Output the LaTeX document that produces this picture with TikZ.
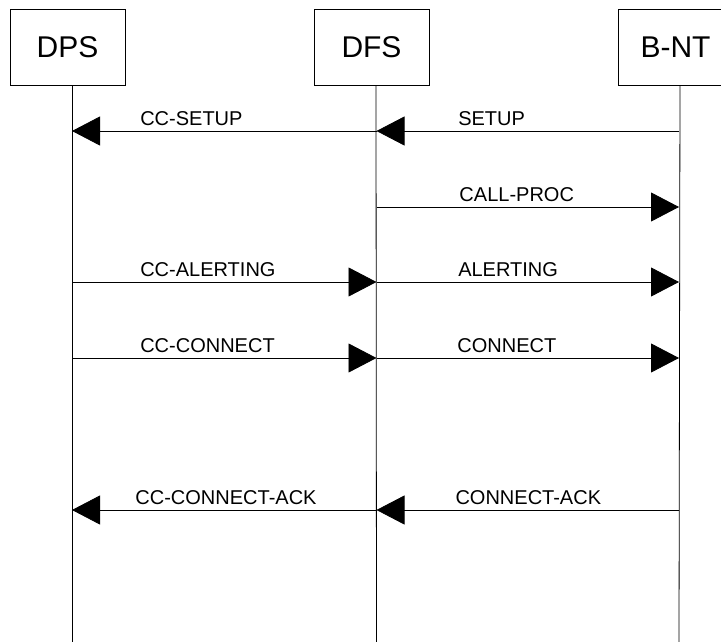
\documentclass[tikz,border=0pt]{standalone}
\usepackage{fontspec}
\setmainfont{Liberation Sans}
\usetikzlibrary{arrows.meta,positioning}

\begin{document}
\begin{tikzpicture}[x=1pt, y=-1pt, node distance=304pt,
        entity/.style={draw, line width=0.8pt, minimum width=115pt, minimum height=76pt,
            inner sep=0pt, font=\fontsize{30}{36}\selectfont},
        life/.style={line width=0.8pt},
        msg/.style={line width=0.8pt, -{Triangle[length=28pt,width=29pt]}},
        lbl/.style={anchor=base west, inner sep=0pt, yshift=6pt, font=\fontsize{20}{24}\selectfont}]
        \useasboundingbox (0,0) rectangle (721,642);
        % Define entities
        \node[entity] (DPS) at (67.5,47) {DPS};
        \node[entity] (DFS) [right of=DPS] {DFS};
        \node[entity] (BNT) [right of=DFS] {B-NT};

        % Lifelines
        \coordinate (DPSend) at (72,642);
        \coordinate (DFSend) at (376.5,642);
        \coordinate (BNTend) at (679,642);
        \draw[life] ([xshift=4.5pt]DPS.south) -- (DPSend);
        \draw[life] ([xshift=4.5pt]DFS.south) -- (DFSend);
        \draw[life] ([xshift=4.5pt]BNT.south) -- (BNTend);

        % Message rows
        \coordinate (r1) at (0,131);
        \coordinate (r2) at (0,207);
        \coordinate (r3) at (0,282);
        \coordinate (r4) at (0,358);
        \coordinate (r5) at (0,510);

        % Define messages
        \path[msg]
        % Call setup
        (DFSend |- r1) edge node[lbl, pos=.777] {CC-SETUP} (DPSend |- r1)
        (BNTend |- r1) edge node[lbl, pos=.731] {SETUP} (DFSend |- r1)
        (DFSend |- r2) edge node[lbl, pos=.273] {CALL-PROC} (BNTend |- r2)

        % Alerting and connect
        (DPSend |- r3) edge node[lbl, pos=.223] {CC-ALERTING} (DFSend |- r3)
        (DFSend |- r3) edge node[lbl, pos=.269] {ALERTING} (BNTend |- r3)
        (DPSend |- r4) edge node[lbl, pos=.223] {CC-CONNECT} (DFSend |- r4)
        (DFSend |- r4) edge node[lbl, pos=.266] {CONNECT} (BNTend |- r4)

        % Acknowledge
        (DFSend |- r5) edge node[lbl, pos=.793] {CC-CONNECT-ACK} (DPSend |- r5)
        (BNTend |- r5) edge node[lbl, pos=.740] {CONNECT-ACK} (DFSend |- r5);

\end{tikzpicture}
\end{document}
